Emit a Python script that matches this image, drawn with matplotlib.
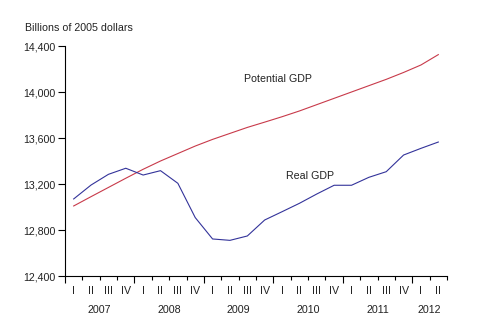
import matplotlib
matplotlib.use("Agg")
import matplotlib.pyplot as plt
import matplotlib.transforms as mtransforms

plt.rcParams['font.family'] = ['Liberation Sans', 'DejaVu Sans']

quarters = ["I", "II", "III", "IV"] * 5 + ["I", "II"]
years = ["2007", "2008", "2009", "2010", "2011", "2012"]
real_gdp = [13070, 13191, 13284, 13337, 13278, 13316, 13206, 12908, 12722, 12710, 12748, 12887,
            12959, 13032, 13113, 13189, 13189, 13258, 13307, 13452, 13510, 13565]
potential_gdp = [13009, 13090, 13170, 13250, 13328, 13400, 13465, 13530, 13588, 13640, 13692, 13738,
                 13785, 13835, 13890, 13945, 14000, 14055, 14110, 14170, 14235, 14325]
yticks = [12400, 12800, 13200, 13600, 14000, 14400]

fig = plt.figure(figsize=(4.8, 3.36), dpi=100)
ax = fig.add_axes([65/480, 1-276/336, (447-65)/480, (276-46)/336])

n = len(real_gdp)
xs = [i + 0.5 for i in range(n)]
ax.plot(xs, potential_gdp, color='#c83a4a', lw=0.8)
ax.plot(xs, real_gdp, color='#33339a', lw=0.8)

ax.set_xlim(0, n)
ax.set_ylim(12400, 14400)
ax.set_yticks(yticks)
ax.set_yticklabels([f"{v:,}" for v in yticks], fontsize=7.7, color='#222222')
ax.tick_params(axis='y', length=5, width=0.8, pad=2, direction='out')

ax.set_xticks(list(range(0, n + 1, 4)))
ax.set_xticklabels([])
ax.set_xticks([i for i in range(n + 1) if i % 4 != 0], minor=True)
ax.tick_params(axis='x', which='major', length=5, width=0.8, direction='out')
ax.tick_params(axis='x', which='minor', length=2.7, width=0.8, direction='out')

for s in ['top', 'right']:
    ax.spines[s].set_visible(False)
for s in ['left', 'bottom']:
    ax.spines[s].set_linewidth(0.8)

trans = mtransforms.blended_transform_factory(ax.transData, fig.transFigure)
for i, q in enumerate(quarters):
    ax.text(i + 0.5, 1 - 291/336, q, transform=trans, ha='center', va='center', fontsize=7.7, color='#222222')
for k, y in enumerate(years):
    start = 4 * k
    end = min(4 * k + 4, n)
    ax.text((start + end) / 2, 1 - 310/336, y, transform=trans, ha='center', va='center', fontsize=7.7, color='#222222')

fig.text(25/480, 1 - 28/336, "Billions of 2005 dollars", fontsize=7.7, color='#222222', ha='left', va='center')
ax.text(10.3, 14113, "Potential GDP", fontsize=7.7, color='#222222', ha='left', va='center')
ax.text(12.7, 13270, "Real GDP", fontsize=7.7, color='#222222', ha='left', va='center')

fig.savefig("out.png", dpi=100)
